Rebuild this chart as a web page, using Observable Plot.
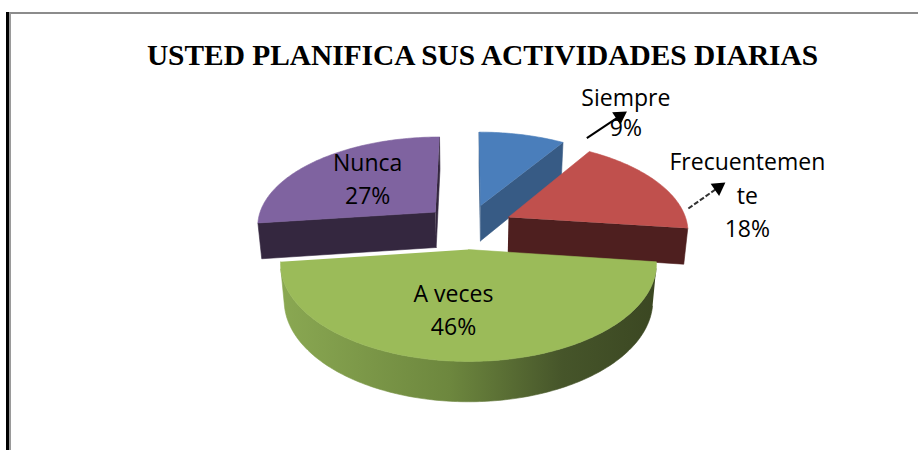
<!DOCTYPE html>
<html><head><meta charset="utf-8">
<script src="https://cdn.jsdelivr.net/npm/d3@7"></script>
<script src="https://cdn.jsdelivr.net/npm/@observablehq/plot@0.6"></script>
<style>
body{margin:0;background:#fff}
#wrap{position:relative;width:918px;height:450px;overflow:hidden}
#frameA{position:absolute;left:6px;top:12px;width:920px;height:460px;border-left:3px solid #000}
#frameB{position:absolute;left:9px;top:12px;width:920px;height:460px;border-left:2px solid #9a9a9a;border-top:2px solid #8c8c8c}
#chart{position:absolute;left:0;top:0}
</style></head>
<body><div id="wrap"><div id="frameA"></div><div id="frameB"></div><div id="chart"></div></div>
<script>
// ---- data ----
const title = "USTED PLANIFICA SUS ACTIVIDADES DIARIAS";
const categories = ["Siempre", "Frecuentemente", "A veces", "Nunca"];
const labelLines = [["Siempre"], ["Frecuentemen", "te"], ["A veces"], ["Nunca"]];
const percents = [9, 18, 46, 27];

// ---- styles ----
const topColors  = ["#4a7ebb", "#c0504d", "#9bbb59", "#7f63a0"];
const sideColors = ["#375b85", "#4e1f1f", "url(#gWall)", "#34273f"];
const wallColors = ["#2f4d70", "#4e1f1f", "url(#gWall)", "#34273f"];

// ---- 3D layout ----
const V = {cx: 468, cy: 226, f: 1122, dist: 6.25, tilt: 29.8 * Math.PI / 180, explode: 0.25, depth: 0.235};
const labelLayout = [
  {r: 1.6, dx: 83, dy: 13.8, lh: 30, arrow: [[-39, 25], [-6, 3]], dash: null},
  {r: 1.6, dx: 8, dy: 33.3, lh: 33.5, arrow: [[-59, 12], [-29, -9]], dash: "5,2"},
  {r: 0.58, dx: -15, dy: 1.3, lh: 33},
  {r: 0.55, dx: -0.5, dy: -2.1, lh: 33}
];

const ct = Math.cos(V.tilt), st = Math.sin(V.tilt);
const cam = [0, V.dist * ct, V.dist * st];
function proj(X, D, Z) {
  const yc = Z * ct - D * st;
  const dep = V.dist - (D * ct + Z * st);
  return [V.cx + V.f * X / dep, V.cy - V.f * yc / dep];
}

const arcs = d3.pie().sort(null).startAngle(0).endAngle(2 * Math.PI)(percents);
const slices = arcs.map((a, i) => {
  const mid = (a.startAngle + a.endAngle) / 2;
  return {i, a0: a.startAngle, a1: a.endAngle, mid,
    ox: V.explode * Math.sin(mid), od: -V.explode * Math.cos(mid)};
});

const pts = [];
let fid = 0;
function addFace(poly, color) {
  const id = fid++;
  for (const [x, y] of poly) pts.push({id, x, y, color});
}
const Zb = -V.depth;
const order = slices.slice().sort((p, q) => p.od - q.od);
let wallX = [Infinity, -Infinity];
for (const s of order) {
  const n = Math.max(8, Math.ceil((s.a1 - s.a0) / (Math.PI / 180)));
  const angs = d3.range(n + 1).map(k => s.a0 + (s.a1 - s.a0) * k / n);
  const E = (a, Z) => [s.ox + Math.sin(a), s.od - Math.cos(a), Z];
  const C = Z => [s.ox, s.od, Z];
  const P = p => proj(...p);
  const dot = (nv, p) => nv[0] * (cam[0] - p[0]) + nv[1] * (cam[1] - p[1]) + nv[2] * (cam[2] - p[2]);
  const nStart = [-Math.cos(s.a0), -Math.sin(s.a0), 0];
  const nEnd = [Math.cos(s.a1), Math.sin(s.a1), 0];
  if (dot(nStart, C(0)) > 0) addFace([C(0), E(s.a0, 0), E(s.a0, Zb), C(Zb)].map(P), sideColors[s.i]);
  if (dot(nEnd, C(0)) > 0) addFace([C(0), E(s.a1, 0), E(s.a1, Zb), C(Zb)].map(P), sideColors[s.i]);
  let run = [];
  const flush = () => {
    if (run.length > 1) {
      const poly = run.map(a => P(E(a, 0))).concat(run.slice().reverse().map(a => P(E(a, Zb))));
      if (s.i === 2) for (const [x] of poly) { wallX[0] = Math.min(wallX[0], x); wallX[1] = Math.max(wallX[1], x); }
      addFace(poly, wallColors[s.i]);
    }
    run = [];
  };
  for (const a of angs) {
    const nv = [Math.sin(a), -Math.cos(a), 0];
    if (dot(nv, E(a, 0)) > 0) run.push(a); else flush();
  }
  flush();
  addFace([C(0), ...angs.map(a => E(a, 0))].map(P), topColors[s.i]);
}

// labels and leader arrows
const texts = [], arrows = [];
slices.forEach(s => {
  const L = labelLayout[s.i];
  const [ax, ay] = proj(s.ox + L.r * Math.sin(s.mid), s.od - L.r * Math.cos(s.mid), 0);
  const lines = [...labelLines[s.i], percents[s.i] + "%"];
  const x = ax + L.dx, y = ay + L.dy;
  lines.forEach((t, k) => texts.push({x, y: y + (k - (lines.length - 1) / 2) * L.lh, t}));
  if (L.arrow) {
    const x1 = x + L.arrow[0][0], y1 = y + L.arrow[0][1], x2 = x + L.arrow[1][0], y2 = y + L.arrow[1][1];
    arrows.push({x1, y1, x2, y2, dash: L.dash, rot: Math.atan2(x2 - x1, -(y2 - y1)) * 180 / Math.PI});
  }
});

const plot = Plot.plot({
  width: 918, height: 450, margin: 0,
  x: {domain: [0, 918], range: [0, 918], axis: null},
  y: {domain: [0, 450], range: [0, 450], axis: null},
  color: {type: "identity"},
  symbol: {type: "identity"},
  style: {background: "transparent"},
  marks: [
    Plot.line(pts, {x: "x", y: "y", z: "id", fill: "color", stroke: "color", strokeWidth: 0.6, curve: "linear"}),
    Plot.text(texts, {x: "x", y: "y", text: "t", fontSize: 23, fontFamily: "Open Sans", fill: "#000", lineAnchor: "middle"}),
    ...arrows.map(a => Plot.link([a], {x1: "x1", y1: "y1", x2: "x2", y2: "y2", stroke: a.dash ? "#333" : "#000", strokeWidth: 2, strokeDasharray: a.dash})),
    Plot.dot(arrows, {x: "x2", y: "y2", symbol: "triangle", rotate: "rot", r: 5.5, fill: "#000", stroke: "none"}),
    Plot.text([title], {frameAnchor: "top", dx: 23, dy: 44, text: d => d, fontFamily: "Liberation Serif", fontWeight: "bold", fontSize: 29.4, fill: "#000", lineAnchor: "top"})
  ]
});
plot.insertAdjacentHTML("afterbegin",
  `<defs><linearGradient id="gWall" gradientUnits="userSpaceOnUse" x1="${wallX[0]}" x2="${wallX[1]}" y1="0" y2="0">
   <stop offset="0" stop-color="#8aa852"/><stop offset="0.45" stop-color="#6d873e"/>
   <stop offset="0.75" stop-color="#46552a"/><stop offset="1" stop-color="#3b4722"/></linearGradient></defs>`);
document.getElementById("chart").appendChild(plot);
</script></body></html>
